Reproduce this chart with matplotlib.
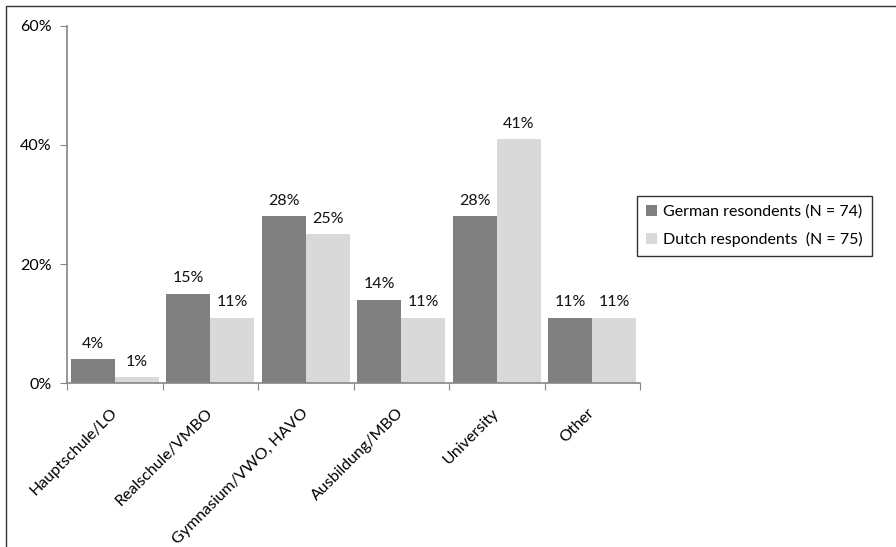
import matplotlib.pyplot as plt
import numpy as np
from matplotlib.patches import Rectangle

plt.rcParams['font.family'] = ['Lato', 'DejaVu Sans']
plt.rcParams['font.size'] = 11.5

categories = ['Hauptschule/LO', 'Realschule/VMBO', 'Gymnasium/VWO, HAVO',
              'Ausbildung/MBO', 'University', 'Other']
german = [4, 15, 28, 14, 28, 11]
dutch = [1, 11, 25, 11, 41, 11]
series_names = ['German resondents (N = 74)', 'Dutch respondents  (N = 75)']
yticks = [0, 20, 40, 60]

fig = plt.figure(figsize=(8.96, 5.47), dpi=100)
ax = fig.add_axes([0.0748, 0.2998, 0.6395, 0.6527])

x = np.arange(len(categories))
w = 0.46
b1 = ax.bar(x - w / 2, german, w, color='#808080', label=series_names[0])
b2 = ax.bar(x + w / 2, dutch, w, color='#d9d9d9', label=series_names[1])
for bars, vals in ((b1, german), (b2, dutch)):
    for r, v in zip(bars, vals):
        ax.annotate('%d%%' % v, (r.get_x() + r.get_width() / 2, v),
                    xytext=(0, 6), textcoords='offset points',
                    ha='center', va='bottom', color='#111111')

ax.set_xlim(-0.5, len(categories) - 0.5)
ax.set_ylim(0, 60)
ax.set_yticks(yticks)
ax.set_yticklabels(['%d%%' % t for t in yticks])
ax.set_xticks(np.arange(len(categories) + 1) - 0.5)
ax.set_xticklabels([])
ax.set_xticks(x, minor=True)
ax.set_xticklabels(categories, minor=True, rotation=45, ha='right',
                   va='center', rotation_mode='anchor')
ax.tick_params(axis='x', which='minor', length=0, pad=20)
ax.tick_params(axis='x', which='major', direction='out', length=5,
               color='#868686')
ax.tick_params(axis='y', direction='out', length=5, color='#868686', pad=6)

for s in ('top', 'right'):
    ax.spines[s].set_visible(False)
for s in ('left', 'bottom'):
    ax.spines[s].set_color('#868686')
    ax.spines[s].set_linewidth(1.2)

leg = fig.legend(handles=[b1, b2], loc='upper left',
                 bbox_to_anchor=(637 / 896, 1 - 196 / 547),
                 frameon=True, fancybox=False, handlelength=0.7,
                 handleheight=0.7, handletextpad=0.4, labelspacing=0.8,
                 borderpad=0.55, borderaxespad=0, fontsize=11.5)
leg.get_frame().set_edgecolor('black')
leg.get_frame().set_linewidth(1.0)

# outer chart border (only top and left fall inside the image)
fig.patches.append(Rectangle((5.5 / 896, -0.1), 1.2, 1 - 5.5 / 547 + 0.1,
                             transform=fig.transFigure, fill=False,
                             edgecolor='#333333', linewidth=1.0))

fig.savefig('out.png', dpi=100)
